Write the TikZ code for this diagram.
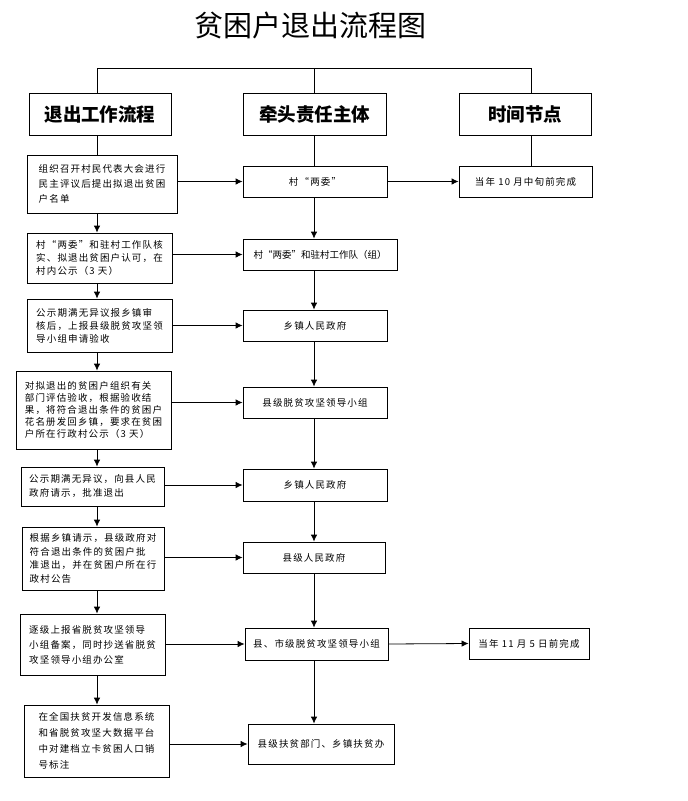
\documentclass[tikz,border=0pt]{standalone}
\usepackage{fontspec}
\setmainfont{Noto Sans CJK SC}
\newfontfamily\bodyfont[LetterSpace=12]{Noto Sans CJK SC}
\usepackage{tikz}
\usetikzlibrary{arrows.meta,positioning}

\begin{document}
\begin{tikzpicture}[
  x=1pt, y=-1pt,
  line width=0.8pt,
  headbox/.style={draw, rectangle, inner sep=0pt, minimum height=42pt, font=\fontsize{18.5}{20}\selectfont\bfseries},
  stepbox/.style={draw, rectangle, align=left, inner sep=0pt, font=\bodyfont\fontsize{9.5}{#1}\selectfont},
  whobox/.style={draw, rectangle, inner sep=0pt, minimum height=31pt, font=\bodyfont\fontsize{9.5}{12}\selectfont},
  link/.style={-{Latex[length=7pt,width=6.5pt]}}
]
\useasboundingbox (0,0) rectangle (688,801);

\node[font=\fontsize{29}{30}\selectfont] (title) at (310,25) {贫困户退出流程图};

\node[headbox, minimum width=142pt] (hstep) at (100,114) {退出工作流程};
\node[headbox, minimum width=143pt] (hwho) at (314.5,114) {牵头责任主体};
\node[headbox, minimum width=132pt] (htime) at (525,114) {时间节点};

\node[stepbox=15, minimum width=150pt, minimum height=58pt] (s1) at (102,184) {组织召开村民代表大会进行\\民主评议后提出拟退出贫困\\户名单};
\node[stepbox=13, minimum width=145pt, minimum height=50pt] (s2) at (99.5,258) {村“两委”和驻村工作队核\\实、拟退出贫困户认可，在\\村内公示（3 天）};
\node[stepbox=13, minimum width=145pt, minimum height=53pt] (s3) at (99.5,325.5) {公示期满无异议报乡镇审\\核后，上报县级脱贫攻坚领\\导小组申请验收};
\node[stepbox=12, minimum width=155pt, minimum height=78pt] (s4) at (93.5,410) {对拟退出的贫困户组织有关\\部门评估验收，根据验收结\\果，将符合退出条件的贫困户\\花名册发回乡镇，要求在贫困\\户所在行政村公示（3 天）};
\node[stepbox=14, minimum width=143pt, minimum height=39pt] (s5) at (92.5,486.5) {公示期满无异议，向县人民\\政府请示，批准退出};
\node[stepbox=13.7, minimum width=142pt, minimum height=63pt] (s6) at (93,558.5) {根据乡镇请示，县级政府对\\符合退出条件的贫困户批\\准退出，并在贫困户所在行\\政村公告};
\node[stepbox=15, minimum width=145pt, minimum height=61pt] (s7) at (92.5,644.5) {逐级上报省脱贫攻坚领导\\小组备案，同时抄送省脱贫\\攻坚领导小组办公室};
\node[stepbox=16, minimum width=145pt, minimum height=72pt] (s8) at (96.5,741) {在全国扶贫开发信息系统\\和省脱贫攻坚大数据平台\\中对建档立卡贫困人口销\\号标注};

\node[whobox, minimum width=144pt] (w1) at (315,181.5) {村“两委”};
\node[whobox, minimum width=154pt, font=\fontsize{9.5}{12}\selectfont] (w2) at (320,254.5) {村“两委”和驻村工作队（组）};
\node[whobox, minimum width=144pt] (w3) at (315,325.5) {乡镇人民政府};
\node[whobox, minimum width=144pt] (w4) at (315,402.5) {县级脱贫攻坚领导小组};
\node[whobox, minimum width=144pt, minimum height=32pt] (w5) at (315,485) {乡镇人民政府};
\node[whobox, minimum width=142pt] (w6) at (314,557.5) {县级人民政府};
\node[whobox, minimum width=143pt, minimum height=32pt] (w7) at (316.5,644) {县、市级脱贫攻坚领导小组};
\node[whobox, minimum width=146pt, minimum height=40pt] (w8) at (321,744) {县级扶贫部门、乡镇扶贫办};

\node[whobox, minimum width=133pt] (t1) at (525.5,181.5) {当年 10 月中旬前完成};
\node[whobox, minimum width=120pt] (t2) at (529,643.5) {当年 11 月 5 日前完成};

\coordinate (lcol) at (97,0);
\coordinate (mcol) at (314,0);
\coordinate (rcol) at (531,0);
\coordinate (bar) at (0,68);

\draw (lcol |- bar) -- (rcol |- bar);
\draw (lcol |- bar) -- (lcol |- hstep.north);
\draw (mcol |- bar) -- (mcol |- hwho.north);
\draw (rcol |- bar) -- (rcol |- htime.north);
\draw (lcol |- hstep.south) -- (lcol |- s1.north);
\draw (mcol |- hwho.south) -- (mcol |- w1.north);
\draw (rcol |- htime.south) -- (rcol |- t1.north);

\foreach \a/\b in {s1/s2,s2/s3,s3/s4,s4/s5,s5/s6,s6/s7,s7/s8}
  \draw[link] (lcol |- \a.south) -- (lcol |- \b.north);
\foreach \a/\b in {w1/w2,w2/w3,w3/w4,w4/w5,w5/w6,w6/w7,w7/w8}
  \draw[link] (mcol |- \a.south) -- (mcol |- \b.north);
\foreach \i in {1,...,8}
  \draw[link] (s\i.east |- w\i.west) -- (w\i.west);
\draw[link] (w1.east) -- (t1.west);
\draw[link] (w7.east) -- (t2.west);
\end{tikzpicture}
\end{document}
